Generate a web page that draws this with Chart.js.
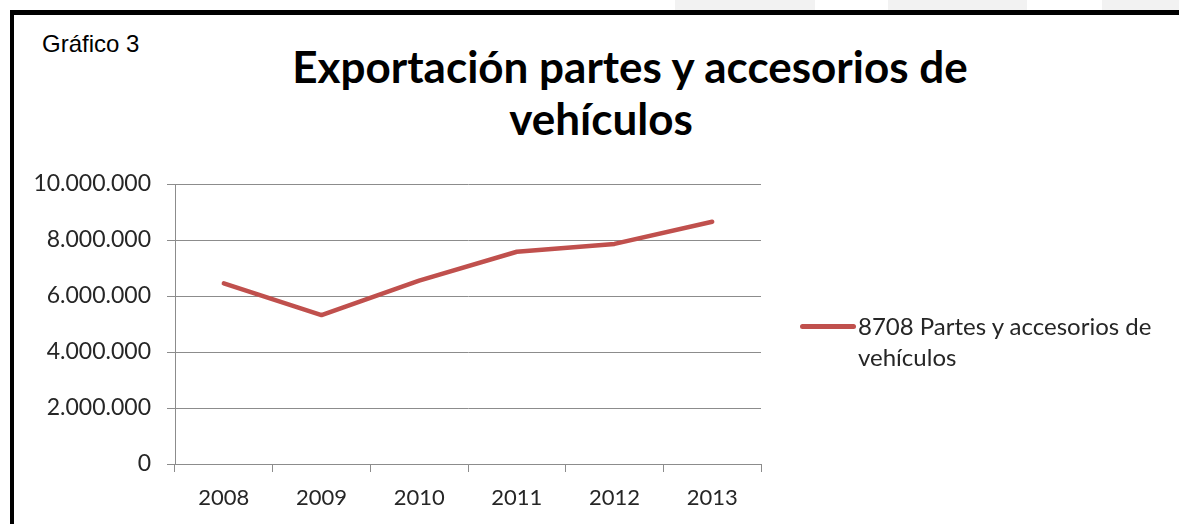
<!DOCTYPE html>
<html lang="es">
<head>
<meta charset="utf-8">
<title>Exportación partes y accesorios de vehículos</title>
<script src="https://cdn.jsdelivr.net/npm/chart.js@4.4.1/dist/chart.umd.min.js"></script>
<style>
  html, body { margin: 0; padding: 0; background: #fff; }
  #page { position: relative; width: 1179px; height: 524px; overflow: hidden; }
  .strip { position: absolute; top: 0; height: 10px; background: #f2f2f2; }
  #frame {
    position: absolute; left: 10px; top: 10px; width: 1200px; height: 600px;
    border-left: 4px solid #000; border-top: 5px solid #000;
  }
  #label {
    position: absolute; left: 42px; top: 30px;
    font: 24px "Liberation Sans", Arial, sans-serif; color: #000;
  }
  .title {
    position: absolute; width: 800px; text-align: center; white-space: nowrap;
    font: bold 44px Lato, sans-serif; color: #000; line-height: 53px;
  }
  #chart { position: absolute; left: 0; top: 0; }
  #legend {
    position: absolute; left: 800px; top: 310px;
    font: 24px Lato, sans-serif; color: #262626; line-height: 31px;
  }
  #legend .swatch {
    position: absolute; left: 0; top: 14px; width: 56px; height: 5px; border-radius: 3px;
  }
  #legend .text { margin-left: 58px; }
</style>
</head>
<body>
<div id="page">
  <div class="strip" style="left:675px;width:140px"></div>
  <div class="strip" style="left:888px;width:139px"></div>
  <div class="strip" style="left:1102px;width:77px"></div>
  <div id="frame"></div>
  <div id="label">Gráfico 3</div>
  <div class="title" id="title1" style="left:230px;top:40px"></div>
  <div class="title" id="title2" style="left:201px;top:92px"></div>
  <canvas id="chart" width="1179" height="524"></canvas>
  <div id="legend"><span class="swatch"></span><div class="text"></div></div>
</div>
<script>
const titleLines = ["Exportación partes y accesorios de", "vehículos"];
const years = ["2008", "2009", "2010", "2011", "2012", "2013"];
const seriesName = "8708 Partes y accesorios de vehículos";
const seriesLines = ["8708 Partes y accesorios de", "vehículos"];
const exports8708 = [6450000, 5320000, 6550000, 7580000, 7860000, 8650000];
const yTicks = [0, 2000000, 4000000, 6000000, 8000000, 10000000];

const lineColor = "#C0504D";
const gridColor = "#8c8c8c";
const textColor = "#262626";

document.getElementById("title1").textContent = titleLines[0];
document.getElementById("title2").textContent = titleLines[1];
document.querySelector("#legend .swatch").style.background = lineColor;
document.querySelector("#legend .text").innerHTML = seriesLines.join("<br>");

// 10000000 -> "10.000.000"
const fmt = (v) => String(v).replace(/\B(?=(\d{3})+(?!\d))/g, ".");

new Chart(document.getElementById("chart"), {
  type: "line",
  data: {
    labels: years,
    datasets: [{
      label: seriesName,
      data: exports8708,
      borderColor: lineColor,
      backgroundColor: lineColor,
      borderWidth: 4.5,
      borderCapStyle: "round",
      borderJoinStyle: "round",
      pointRadius: 0,
      tension: 0,
    }],
  },
  options: {
    responsive: false,
    animation: false,
    layout: { padding: { left: 0, top: 184, right: 418, bottom: 0 } },
    plugins: {
      legend: { display: false },
      tooltip: { enabled: false },
    },
    scales: {
      x: {
        offset: true,
        afterFit: (s) => { s.height = 60; },
        grid: { offset: true, drawOnChartArea: false, drawTicks: true, tickLength: 8, color: gridColor },
        border: { color: gridColor },
        ticks: { font: { family: "Lato", size: 22 }, color: textColor, padding: 13, maxRotation: 0 },
      },
      y: {
        min: 0,
        max: 10000000,
        afterFit: (s) => { s.width = 175; },
        afterBuildTicks: (s) => { s.ticks = yTicks.map((v) => ({ value: v })); },
        grid: { drawTicks: true, tickLength: 8, color: gridColor },
        border: { color: gridColor },
        ticks: { font: { family: "Lato", size: 23 }, color: textColor, padding: 16, callback: fmt },
      },
    },
  },
});
</script>
</body>
</html>
